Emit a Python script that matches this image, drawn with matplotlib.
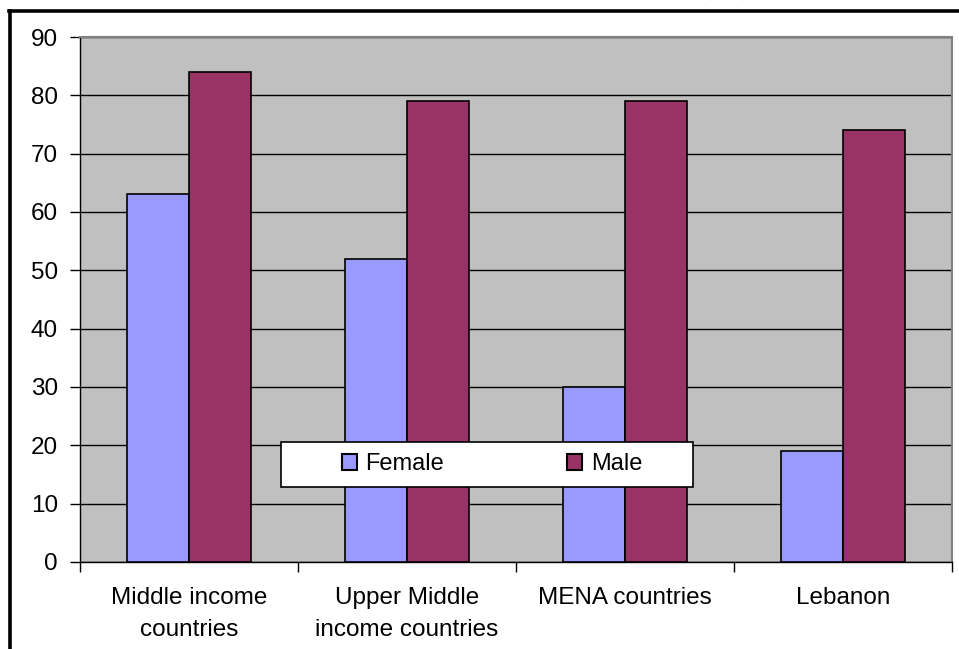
import matplotlib
matplotlib.use("Agg")
import matplotlib.pyplot as plt
import numpy as np
from matplotlib.patches import Patch, Rectangle
from matplotlib.lines import Line2D

# Data
categories = ["Middle income\ncountries", "Upper Middle\nincome countries", "MENA countries", "Lebanon"]
female = [63, 52, 30, 19]
male = [84, 79, 79, 74]
series_names = ["Female", "Male"]
yticks = list(range(0, 91, 10))
title = "Figure 3: Labor force participation rates (%)"

female_color = "#9999FF"
male_color = "#993366"
plot_bg = "#C0C0C0"

W, H = 959, 649
fig = plt.figure(figsize=(W / 100, H / 100), dpi=100)
plt.rcParams["font.family"] = ["Liberation Sans", "DejaVu Sans"]

def fx(px):
    return px / W

def fy(py):
    return 1 - py / H

# Outer frame (left and top edges)
fig.add_artist(Line2D([fx(10), fx(10)], [fy(11), fy(H + 5)], color="black", lw=2.6,
                      transform=fig.transFigure))
fig.add_artist(Line2D([fx(9), fx(W + 5)], [fy(11), fy(11)], color="black", lw=2.6,
                      transform=fig.transFigure))

# Title sits above the page edge; only its descenders reach into view
fig.text(fx(752), fy(-6), title, ha="right", va="baseline", fontsize=21,
         fontweight="bold", family=["Liberation Serif", "DejaVu Serif"])

left, right, top, bottom = 80, 952, 37, 562
ax = fig.add_axes([fx(left), fy(bottom), fx(right - left), fy(top) - fy(bottom)])
ax.set_facecolor(plot_bg)

x = np.arange(len(categories))
bw = 62 / 218
ax.bar(x - bw / 2, female, width=bw, color=female_color, edgecolor="black", linewidth=1.2,
       zorder=3)
ax.bar(x + bw / 2, male, width=bw, color=male_color, edgecolor="black", linewidth=1.2,
       zorder=3)

ax.set_xlim(-0.5, len(categories) - 0.5)
ax.set_ylim(0, 90)
ax.set_yticks(yticks)
ax.set_yticklabels([str(v) for v in yticks], fontsize=17.5)
ax.yaxis.grid(True, color="black", linewidth=1.0, zorder=1)
ax.set_axisbelow(True)

ax.set_xticks(x)
ax.set_xticklabels(categories, fontsize=17.5, linespacing=1.6)
ax.set_xticks(np.arange(len(categories) + 1) - 0.5, minor=True)
ax.tick_params(axis="x", which="major", length=0, pad=18)
ax.tick_params(axis="x", which="minor", length=7, width=1.0, direction="out", color="black")
ax.tick_params(axis="y", length=7, width=1.0, direction="out", pad=9, color="black")

for side in ("top", "right"):
    ax.spines[side].set_color("#808080")
    ax.spines[side].set_linewidth(1.5)
ax.spines["left"].set_color("black")
ax.spines["bottom"].set_color("black")
ax.spines["left"].set_linewidth(1.0)
ax.spines["bottom"].set_linewidth(1.0)

# Legend: white box with the two entries spread across it
lx0, ly0, lx1, ly1 = 281, 442, 693, 487
box = Rectangle((fx(lx0), fy(ly1)), fx(lx1 - lx0), fy(ly0) - fy(ly1),
                transform=fig.transFigure, facecolor="white", edgecolor="black",
                linewidth=1.2, zorder=5)
fig.add_artist(box)

handles = [Patch(facecolor=female_color, edgecolor="black", linewidth=1.5),
           Patch(facecolor=male_color, edgecolor="black", linewidth=1.5)]
leg = fig.legend(handles, series_names, loc="center left",
                 bbox_to_anchor=(fx(342), fy((ly0 + ly1) / 2)),
                 ncol=2, fontsize=17, frameon=False, borderpad=0, borderaxespad=0,
                 handlelength=0.65, handleheight=0.65, handletextpad=0.35,
                 columnspacing=5.2)
leg.set_zorder(6)

fig.savefig("out.png", dpi=100)
